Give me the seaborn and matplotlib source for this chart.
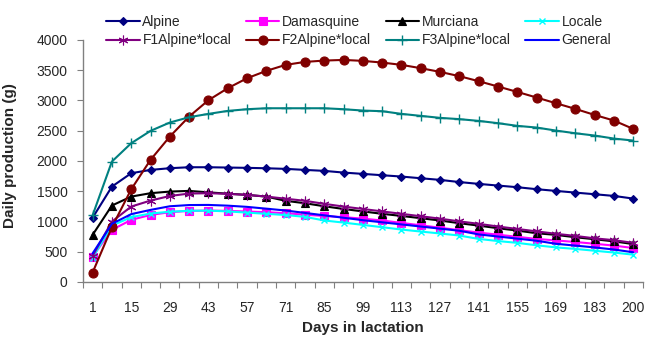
import matplotlib
matplotlib.use("Agg")
import matplotlib.pyplot as plt
import numpy as np
import pandas as pd
import seaborn as sns
from matplotlib.ticker import FixedLocator

# Days in lactation (category axis)
days = [1, 8, 15, 22, 29, 36, 43, 50, 57, 64, 71, 78, 85, 92, 99, 106, 113,
        120, 127, 134, 141, 148, 155, 162, 169, 176, 183, 190, 200]

# Daily milk production (g) per genotype
alpine = [1060, 1575, 1796, 1851, 1879, 1895, 1895, 1890, 1885, 1878, 1868,
          1851, 1835, 1807, 1785, 1763, 1741, 1713, 1686, 1650, 1620, 1592,
          1565, 1532, 1504, 1476, 1449, 1421, 1377]
damasquine = [419, 860, 1025, 1107, 1152, 1174, 1179, 1174, 1163, 1152, 1135,
              1110, 1090, 1070, 1045, 1015, 975, 935, 895, 855, 815, 780,
              745, 710, 685, 660, 630, 600, 560]
murciana = [777, 1262, 1410, 1466, 1493, 1504, 1480, 1458, 1438, 1410, 1340,
            1300, 1250, 1205, 1165, 1125, 1090, 1053, 1014, 970, 930, 887,
            848, 804, 777, 738, 705, 670, 625]
locale = [400, 930, 1070, 1130, 1160, 1175, 1178, 1165, 1145, 1125, 1105,
          1075, 1015, 980, 942, 904, 865, 832, 800, 766, 710, 675,
          645, 605, 570, 545, 515, 485, 450]
f1_alpine_local = [430, 997, 1245, 1344, 1420, 1460, 1466, 1455, 1438, 1410,
                   1375, 1340, 1290, 1245, 1205, 1165, 1125, 1085, 1045, 1000,
                   960, 915, 875, 835, 795, 760, 720, 690, 645]
f2_alpine_local = [154, 904, 1530, 2017, 2402, 2733, 3003, 3201, 3366, 3488,
                   3587, 3636, 3658, 3669, 3653, 3625, 3587, 3532, 3471, 3400,
                   3317, 3229, 3140, 3047, 2953, 2860, 2760, 2667, 2529]
f3_alpine_local = [1100, 1989, 2292, 2496, 2634, 2722, 2777, 2826, 2854, 2870,
                   2870, 2870, 2870, 2854, 2832, 2821, 2777, 2744, 2711, 2690,
                   2661, 2623, 2579, 2551, 2501, 2457, 2419, 2369, 2336]
general = [470, 960, 1120, 1190, 1250, 1270, 1272, 1260, 1240, 1210, 1180,
           1140, 1100, 1060, 1020, 985, 950, 915, 880, 845, 785, 750,
           715, 680, 630, 600, 570, 535, 490]

series_names = ["Alpine", "Damasquine", "Murciana", "Locale",
                "F1Alpine*local", "F2Alpine*local", "F3Alpine*local", "General"]
series_values = [alpine, damasquine, murciana, locale,
                 f1_alpine_local, f2_alpine_local, f3_alpine_local, general]

styles = {
    "Alpine":         dict(color="#000080", marker="D", ms=4.5, mew=0.8),
    "Damasquine":     dict(color="#FF00FF", marker="s", ms=5.5, mew=0.8),
    "Murciana":       dict(color="#000000", marker="^", ms=5.5, mew=0.8),
    "Locale":         dict(color="#00FFFF", marker="x", ms=5, mew=1.0),
    "F1Alpine*local": dict(color="#800080", marker=(6, 2, 0), ms=7, mew=0.8),
    "F2Alpine*local": dict(color="#800000", marker="o", ms=6.5, mew=0.8),
    "F3Alpine*local": dict(color="#008080", marker="+", ms=7, mew=1.0),
    "General":        dict(color="#0000FF", marker=None, ms=0, mew=0),
}

sns.set_theme(style="white")
plt.rcParams["font.family"] = ["Liberation Sans", "DejaVu Sans"]

fig = plt.figure(figsize=(6.48, 3.38), dpi=100)
ax = fig.add_axes([0.128, 0.166, 0.864, 0.716])

pos = np.arange(len(days))
handles = {}
for name, vals in zip(series_names, series_values):
    st = styles[name]
    df = pd.DataFrame({"pos": pos, "value": vals})
    kw = dict(color=st["color"], linewidth=1.5)
    if st["marker"] is not None:
        kw.update(marker=st["marker"], markersize=st["ms"],
                  markeredgewidth=st["mew"], markeredgecolor=st["color"],
                  markerfacecolor=st["color"])
    sns.lineplot(data=df, x="pos", y="value", ax=ax, label=name, **kw)
    handles[name] = ax.get_lines()[-1]

ax.set_xlim(-0.5, len(days) - 0.5)
ax.set_ylim(0, 4000)
ax.set_yticks(np.arange(0, 4001, 500))
ax.set_yticklabels([str(v) for v in range(0, 4001, 500)], fontsize=10)

label_pos = list(range(0, len(days), 2))
ax.xaxis.set_major_locator(FixedLocator(label_pos))
ax.set_xticklabels([str(days[i]) for i in label_pos], fontsize=10)
ax.xaxis.set_minor_locator(FixedLocator(np.arange(-0.5, len(days), 1.0)))
ax.tick_params(axis="x", which="major", length=0, pad=14)
ax.tick_params(axis="x", which="minor", length=4, width=0.8, color="#808080",
               direction="out", bottom=True)
ax.tick_params(axis="y", which="major", length=4, width=0.8, color="#808080",
               direction="out", left=True, pad=7)

for s in ["top", "right"]:
    ax.spines[s].set_visible(False)
for s in ["left", "bottom"]:
    ax.spines[s].set_color("#808080")
    ax.spines[s].set_linewidth(1.0)

ax.set_xlabel("Days in lactation", fontsize=11, fontweight="bold")
ax.set_ylabel("Daily production (g)", fontsize=11, fontweight="bold")
ax.xaxis.set_label_coords(0.5, -0.162)
ax.yaxis.set_label_coords(-0.118, 0.52)
ax.grid(False)

ax.get_legend().remove()
order = ["Alpine", "F1Alpine*local", "Damasquine", "F2Alpine*local",
         "Murciana", "F3Alpine*local", "Locale", "General"]
fig.legend([handles[n] for n in order], order, ncol=4, frameon=False,
           loc="upper left", bbox_to_anchor=(0.164, 0.955),
           fontsize=10, handlelength=2.4, handletextpad=0.2,
           columnspacing=1.05, labelspacing=0.3, borderaxespad=0,
           borderpad=0)

fig.savefig("out.png", dpi=100)
